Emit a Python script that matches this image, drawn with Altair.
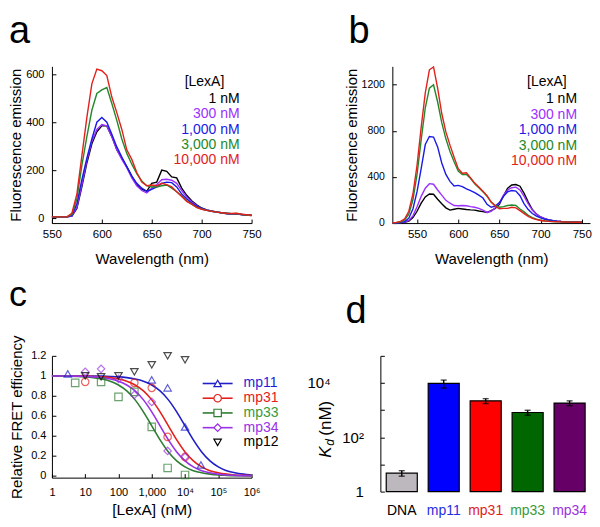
import altair as alt
import pandas as pd

FONT = "Liberation Sans"

# ---------------- panel a / b : emission spectra ----------------
conc_labels = ["1 nM", "300 nM", "1,000 nM", "3,000 nM", "10,000 nM"]
conc_colors = ["#000000", "#9b30ff", "#1a1ae6", "#23882a", "#e3211c"]

wl_a = list(range(550, 751, 5))
a_1nM = [5, 5, 5, 5, 8, 40, 130, 230, 310, 360, 385, 385, 340, 285, 250, 215, 175, 140, 120, 112,
         145, 150, 200, 195, 172, 168, 125, 95, 72, 55, 42, 34, 30, 26, 22, 18, 17, 17, 15, 13, 12]
a_300nM = [5, 5, 5, 5, 8, 45, 140, 240, 320, 370, 390, 385, 340, 285, 245, 210, 168, 135, 115, 105,
           125, 140, 160, 162, 158, 145, 115, 88, 68, 52, 40, 33, 29, 25, 22, 19, 17, 17, 15, 13, 12]
a_1000nM = [5, 5, 5, 5, 10, 60, 160, 250, 330, 400, 420, 400, 350, 297, 255, 214, 175, 145, 125, 112,
            120, 130, 145, 150, 148, 130, 100, 80, 63, 50, 40, 33, 28, 25, 22, 20, 18, 18, 15, 13, 11]
a_3000nM = [5, 5, 5, 5, 15, 80, 220, 340, 450, 520, 535, 545, 478, 408, 330, 270, 225, 185, 155, 135,
            130, 130, 135, 138, 125, 110, 92, 72, 58, 45, 38, 32, 28, 25, 22, 20, 18, 19, 15, 13, 11]
a_10000nM = [5, 5, 5, 5, 20, 100, 260, 420, 560, 622, 615, 595, 505, 440, 370, 285, 245, 190, 150, 135,
             138, 135, 145, 140, 130, 110, 90, 70, 58, 45, 37, 32, 28, 25, 22, 20, 19, 20, 16, 14, 12]

wl_b = list(range(520, 751, 5))
b_1nM = [0, 0, 2, 5, 15, 45, 100, 170, 225, 250, 248, 205, 165, 130, 110, 118, 125, 120, 115, 112,
         110, 102, 97, 90, 105, 125, 160, 235, 300, 328, 332, 318, 255, 180, 115, 75, 50, 35, 25, 18,
         14, 11, 9, 7, 6, 5, 4]
b_300nM = [0, 0, 2, 6, 20, 60, 140, 230, 300, 340, 335, 285, 240, 195, 170, 150, 148, 150, 148, 140,
           135, 125, 110, 90, 100, 130, 170, 240, 285, 305, 310, 285, 230, 165, 110, 75, 50, 35, 25, 18,
           14, 11, 9, 7, 6, 5, 4]
b_1000nM = [0, 0, 3, 10, 40, 120, 270, 470, 680, 750, 745, 660, 520, 420, 360, 320, 325, 315, 295, 280,
            262, 240, 215, 160, 135, 145, 175, 230, 270, 280, 275, 235, 165, 115, 80, 58, 43, 32, 24, 18,
            14, 11, 9, 7, 6, 5, 4]
b_3000nM = [0, 2, 8, 25, 75, 200, 420, 720, 1000, 1170, 1200, 1050, 870, 730, 620, 530, 450, 420, 420, 385,
            340, 305, 270, 230, 180, 150, 135, 140, 150, 155, 150, 120, 95, 65, 45, 32, 22, 17, 13, 11,
            9, 8, 7, 6, 5, 5, 4]
b_10000nM = [0, 3, 12, 35, 100, 250, 500, 830, 1130, 1330, 1355, 1170, 950, 790, 675, 570, 470, 430, 435, 390,
             345, 310, 275, 235, 180, 145, 122, 125, 125, 135, 130, 105, 80, 55, 38, 28, 20, 15, 12, 10,
             9, 8, 7, 6, 5, 5, 4]

# ---------------- panel c : FRET titration ----------------
series_names = ["mp11", "mp31", "mp33", "mp34", "mp12"]
series_colors = ["#1f1fc8", "#e3211c", "#2e7d32", "#9932e6", "#000000"]
legend_text_colors = ["#1f1fd6", "#e3211c", "#3a9a3a", "#9932e6", "#000000"]
series_shapes = ["triangle-up", "circle", "square", "diamond", "triangle-down"]

fit_conc = [1, 1.778, 3.162, 5.623, 10, 17.78, 31.62, 56.23, 100, 177.8, 316.2, 562.3, 1000,
            1778, 3162, 5623, 10000, 17783, 31623, 56234, 100000, 177828, 316228, 562341, 1000000]
fit_mp11 = [1.0, 1.0, 1.0, 0.999, 0.999, 0.998, 0.997, 0.994, 0.990, 0.982, 0.969, 0.947, 0.909,
            0.849, 0.760, 0.640, 0.5, 0.360, 0.240, 0.151, 0.091, 0.053, 0.031, 0.018, 0.010]
fit_mp31 = [1.0, 0.999, 0.999, 0.998, 0.997, 0.994, 0.990, 0.982, 0.969, 0.947, 0.909, 0.849, 0.760,
            0.640, 0.5, 0.360, 0.240, 0.151, 0.091, 0.053, 0.031, 0.018, 0.010, 0.006, 0.003]
fit_mp33 = [0.999, 0.998, 0.997, 0.994, 0.990, 0.982, 0.969, 0.947, 0.909, 0.849, 0.760, 0.640, 0.5,
            0.360, 0.240, 0.151, 0.091, 0.053, 0.031, 0.018, 0.010, 0.006, 0.003, 0.002, 0.001]
fit_mp34 = [0.999, 0.999, 0.998, 0.997, 0.994, 0.990, 0.982, 0.969, 0.947, 0.909, 0.849, 0.760, 0.640,
            0.5, 0.360, 0.240, 0.151, 0.091, 0.053, 0.031, 0.018, 0.010, 0.006, 0.003, 0.002]

pts_mp11_x = [3, 1000, 3000, 10000, 30000]
pts_mp11_y = [1.02, 0.96, 0.88, 0.49, 0.11]
pts_mp31_x = [10, 300, 1000, 3000, 10000]
pts_mp31_y = [0.94, 0.93, 0.88, 0.39, 0.19]
pts_mp33_x = [5, 30, 100, 300, 1000, 3000, 10000]
pts_mp33_y = [0.93, 0.94, 0.79, 0.84, 0.49, 0.08, 0.01]
pts_mp34_x = [10, 30, 100, 300, 1000, 3000, 10000]
pts_mp34_y = [1.04, 1.07, 0.97, 0.81, 0.74, 0.25, 0.19]
pts_mp12_x = [10, 30, 100, 300, 1000, 3000, 10000]
pts_mp12_y = [1.0, 0.99, 1.0, 1.04, 1.11, 1.2, 1.16]

# ---------------- panel d : Kd bars ----------------
bar_names = ["DNA", "mp11", "mp31", "mp33", "mp34"]
bar_kd = [4.8, 9700, 2200, 820, 1820]
bar_lo = [3.7, 6500, 1750, 650, 1460]
bar_hi = [5.9, 12800, 2650, 990, 2200]
bar_colors = ["#bdb8bd", "#0000ff", "#ff0000", "#006600", "#660066"]
bar_label_colors = ["#000000", "#1f2fe0", "#e3211c", "#3a9a3a", "#9b30e0"]


# ================= helpers =================
def long_spectra(wl, series):
    rows = []
    for lab, vals in zip(conc_labels, series):
        for w, v in zip(wl, vals):
            rows.append({"wl": w, "val": v, "conc": lab})
    return pd.DataFrame(rows)


def text_df(t):
    return pd.DataFrame({"t": [t]})


color_conc = alt.Color("conc:N", scale=alt.Scale(domain=conc_labels, range=conc_colors), legend=None)


def letter_layer(letter, x, y, size):
    return alt.Chart(text_df(letter)).mark_text(
        align="left", baseline="alphabetic", fontSize=size, color="black"
    ).encode(x=alt.value(x), y=alt.value(y), text="t:N")


def spectrum_panel(df, xdom, xvals, ydom, yvals, w, h, letter, letter_x, title_x,
                   lab_size, leg_title_x, leg_right_x, leg_rows):
    xs = alt.Scale(domain=xdom, nice=False, zero=False)
    ys = alt.Scale(domain=ydom, nice=False, zero=False)
    lines = alt.Chart(df).mark_line(strokeWidth=1.4).encode(
        x=alt.X("wl:Q", scale=xs, axis=alt.Axis(
            orient="bottom", values=xvals, ticks=False, labelFontSize=11.5, labelPadding=5,
            title="Wavelength (nm)", titleFontSize=15, titleY=28)),
        y=alt.Y("val:Q", scale=ys, axis=alt.Axis(
            orient="left", values=yvals, ticks=False, format="d", labelFontSize=lab_size, labelPadding=8,
            title="Fluorescence emission", titleFontSize=15, titleX=title_x)),
        color=color_conc,
    )
    ticks = alt.Chart(df).mark_point(opacity=0).encode(
        x=alt.X("wl:Q", scale=xs, axis=alt.Axis(
            orient="bottom", values=xvals, offset=-4, tickSize=4, domain=False,
            labels=False, title=None)),
        y=alt.Y("val:Q", scale=ys, axis=alt.Axis(
            orient="left", values=yvals, offset=-4, tickSize=4, domain=False,
            labels=False, title=None)),
    )
    leg = alt.Chart(pd.DataFrame({"conc": conc_labels})).mark_text(
        align="right", baseline="middle", fontSize=14
    ).encode(
        x=alt.value(leg_right_x),
        y=alt.Y("conc:N", scale=alt.Scale(type="point", domain=conc_labels, range=leg_rows, padding=0),
                axis=None),
        text="conc:N",
        color=color_conc,
    )
    leg_title = alt.Chart(text_df("[LexA]")).mark_text(
        align="left", baseline="middle", fontSize=14, color="black"
    ).encode(x=alt.value(leg_title_x), y=alt.value(leg_rows[0] - 17.3), text="t:N")
    let = letter_layer(letter, letter_x, -23, 38)
    return (alt.layer(lines, ticks, leg, leg_title, let)
            .resolve_scale(y="independent")
            .resolve_axis(x="independent", y="independent")
            .properties(width=w, height=h))


# ================= panel a =================
df_a = long_spectra(wl_a, [a_1nM, a_300nM, a_1000nM, a_3000nM, a_10000nM])
panel_a = spectrum_panel(df_a, [550, 750], [550, 600, 650, 700, 750], [-20.8, 633.3], [0, 200, 400, 600],
                         200, 157, "a", -43, -28, 11, 133, 188, [33, 94])

# ================= panel b =================
df_b = long_spectra(wl_b, [b_1nM, b_300nM, b_1000nM, b_3000nM, b_10000nM])
panel_b = spectrum_panel(df_b, [520, 760], [550, 600, 650, 700, 750], [-2.6, 1360], [0, 400, 800, 1200],
                         198, 157, "b", -44, -33, 10.5, 135, 185, [33, 95])

# ================= panel c =================
fit_rows = []
for name, vals in zip(["mp11", "mp31", "mp33", "mp34"], [fit_mp11, fit_mp31, fit_mp33, fit_mp34]):
    for cx, v in zip(fit_conc, vals):
        fit_rows.append({"conc": cx, "val": v, "series": name})
df_fit = pd.DataFrame(fit_rows)

pt_rows = []
for name, xs_, ys_ in zip(series_names,
                          [pts_mp11_x, pts_mp31_x, pts_mp33_x, pts_mp34_x, pts_mp12_x],
                          [pts_mp11_y, pts_mp31_y, pts_mp33_y, pts_mp34_y, pts_mp12_y]):
    for cx, v in zip(xs_, ys_):
        pt_rows.append({"conc": cx, "val": v, "series": name})
df_pts = pd.DataFrame(pt_rows)

c_xs = alt.Scale(type="log", domain=[1, 1000000], nice=False)
c_ys = alt.Scale(domain=[-0.017, 1.2], nice=False, zero=False)
c_xvals = [1, 10, 100, 1000, 10000, 100000, 1000000]
c_yvals = [0, 0.2, 0.4, 0.6, 0.8, 1.0, 1.2]
c_color = alt.Color("series:N", scale=alt.Scale(domain=series_names, range=series_colors), legend=None)
c_shape = alt.Shape("series:N", scale=alt.Scale(domain=series_names, range=series_shapes), legend=None)
c_xlabel = ("datum.value == 1 ? '1' : datum.value == 10 ? '10' : datum.value == 100 ? '100' : "
            "datum.value == 1000 ? '1,000' : datum.value == 10000 ? '10\u2074' : "
            "datum.value == 100000 ? '10\u2075' : '10\u2076'")

c_lines = alt.Chart(df_fit).mark_line(strokeWidth=1.6, interpolate="monotone").encode(
    x=alt.X("conc:Q", scale=c_xs, axis=alt.Axis(
        orient="bottom", values=c_xvals, ticks=False, labelExpr=c_xlabel, labelFontSize=11,
        labelPadding=9, title="[LexA] (nM)", titleFontSize=15.5, titleY=25)),
    y=alt.Y("val:Q", scale=c_ys, axis=alt.Axis(
        orient="left", values=c_yvals, ticks=False, format=".1~f", labelFontSize=11, labelPadding=6,
        title="Relative FRET efficiency", titleFontSize=15, titleX=-27)),
    color=c_color,
)
c_points = alt.Chart(df_pts).mark_point(filled=False, size=55, strokeWidth=1.2).encode(
    x=alt.X("conc:Q", scale=c_xs, axis=None),
    y=alt.Y("val:Q", scale=c_ys, axis=None),
    color=c_color, shape=c_shape,
)
c_ticks = alt.Chart(df_pts).mark_point(opacity=0).encode(
    x=alt.X("conc:Q", scale=c_xs, axis=alt.Axis(
        orient="bottom", values=c_xvals, offset=-4, tickSize=4, domain=False, labels=False, title=None)),
    y=alt.Y("val:Q", scale=c_ys, axis=alt.Axis(
        orient="left", values=c_yvals, offset=-4, tickSize=4, domain=False, labels=False, title=None)),
)
leg_c_df = pd.DataFrame({"series": series_names})
leg_y = alt.Y("series:N", scale=alt.Scale(type="point", domain=series_names, range=[27.7, 86.7], padding=0),
              axis=None)
c_leg_rule = alt.Chart(leg_c_df).transform_filter("datum.series != 'mp12'").mark_rule(strokeWidth=1.6).encode(
    x=alt.value(151), x2=alt.value(181), y=leg_y, color=c_color)
c_leg_pt = alt.Chart(leg_c_df).mark_point(filled=False, fill="white", size=55, strokeWidth=1.2, opacity=1).encode(
    x=alt.value(166), y=leg_y, color=c_color, shape=c_shape)
c_leg_txt = alt.Chart(leg_c_df).mark_text(align="left", baseline="middle", fontSize=14).encode(
    x=alt.value(192), y=leg_y, text="series:N",
    color=alt.Color("series:N", scale=alt.Scale(domain=series_names, range=legend_text_colors), legend=None))
c_letter = letter_layer("c", -43, -50, 36)

panel_c = (alt.layer(c_lines, c_points, c_ticks, c_leg_rule, c_leg_pt, c_leg_txt, c_letter)
           .resolve_scale(y="independent", color="independent")
           .resolve_axis(x="independent", y="independent")
           .properties(width=200, height=122))

# ================= panel d =================
D_H = 136
df_d = pd.DataFrame({"name": bar_names, "kd": bar_kd, "lo": bar_lo, "hi": bar_hi})
d_xs = alt.Scale(domain=bar_names, paddingInner=0.26, paddingOuter=0.14)
d_ys = alt.Scale(type="log", domain=[1, 100000], nice=False)
d_yvals = [1, 10, 100, 1000, 10000, 100000]
d_ylabel = ("datum.value == 1 ? '1' : datum.value == 100 ? '10\u00b2' : "
            "datum.value == 10000 ? '10\u2074\u2007\u2007\u2007\u2007\u200b' : ''")

d_bars = alt.Chart(df_d).mark_bar(stroke="black", strokeWidth=1.2).encode(
    x=alt.X("name:N", scale=d_xs, sort=bar_names, axis=alt.Axis(
        orient="bottom", title=None, labels=False, ticks=False)),
    y=alt.Y("kd:Q", scale=d_ys, axis=alt.Axis(
        orient="left", values=d_yvals, ticks=False, labelExpr=d_ylabel, labelFontSize=15,
        labelPadding=17, title=None)),
    y2=alt.datum(1),
    color=alt.Color("name:N", scale=alt.Scale(domain=bar_names, range=bar_colors), legend=None),
)
d_err = alt.Chart(df_d).mark_rule(color="black", strokeWidth=1.4).encode(
    x=alt.X("name:N", scale=d_xs, sort=bar_names, axis=None),
    y=alt.Y("lo:Q", scale=d_ys, axis=None), y2="hi:Q")
d_cap_lo = alt.Chart(df_d).mark_tick(color="black", size=6, thickness=1.4, orient="horizontal").encode(
    x=alt.X("name:N", scale=d_xs, sort=bar_names, axis=None),
    y=alt.Y("lo:Q", scale=d_ys, axis=None))
d_cap_hi = alt.Chart(df_d).mark_tick(color="black", size=6, thickness=1.4, orient="horizontal").encode(
    x=alt.X("name:N", scale=d_xs, sort=bar_names, axis=None),
    y=alt.Y("hi:Q", scale=d_ys, axis=None))
d_ticks = alt.Chart(df_d).mark_point(opacity=0).encode(
    x=alt.X("name:N", scale=d_xs, sort=bar_names, axis=None),
    y=alt.Y("kd:Q", scale=d_ys, axis=alt.Axis(
        orient="left", values=d_yvals, offset=-4, tickSize=4, domain=False, labels=False, title=None)),
)
d_xlab = alt.Chart(df_d).mark_text(baseline="top", fontSize=14).encode(
    x=alt.X("name:N", scale=d_xs, sort=bar_names, axis=None),
    y=alt.value(D_H + 12),
    text="name:N",
    color=alt.Color("name:N", scale=alt.Scale(domain=bar_names, range=bar_label_colors), legend=None),
)
d_title_k = alt.Chart(text_df("K")).mark_text(
    angle=270, align="left", baseline="middle", fontSize=17, fontStyle="italic", color="black"
).encode(x=alt.value(-54), y=alt.value(102), text="t:N")
d_title_d = alt.Chart(text_df("d")).mark_text(
    angle=270, align="left", baseline="middle", fontSize=12, fontStyle="italic", color="black"
).encode(x=alt.value(-50), y=alt.value(90), text="t:N")
d_title_nm = alt.Chart(text_df("(nM)")).mark_text(
    angle=270, align="left", baseline="middle", fontSize=17, color="black"
).encode(x=alt.value(-54), y=alt.value(80), text="t:N")
d_letter = letter_layer("d", -35, -33, 38)

panel_d = (alt.layer(d_bars, d_err, d_cap_lo, d_cap_hi, d_ticks, d_xlab,
                     d_title_k, d_title_d, d_title_nm, d_letter)
           .resolve_scale(color="independent")
           .resolve_axis(y="independent")
           .properties(width=211, height=D_H))

row1 = alt.hconcat(panel_a, panel_b, spacing=141, bounds="flush")
row2 = alt.hconcat(panel_c, panel_d, spacing=129, bounds="flush")

chart = (alt.vconcat(row1, row2, spacing=11,
                     padding={"top": 5, "left": 0, "right": 0, "bottom": 0})
         .configure(font=FONT)
         .configure_view(stroke=None)
         .configure_axis(grid=False, domainColor="black", domainWidth=1, tickColor="black", tickWidth=1,
                         labelColor="black", titleColor="black", titleFontWeight="normal",
                         labelFont=FONT, titleFont=FONT, labelFlush=False, labelOverlap=False))

chart.save("out.html", embed_options={"renderer": "svg", "actions": False})
